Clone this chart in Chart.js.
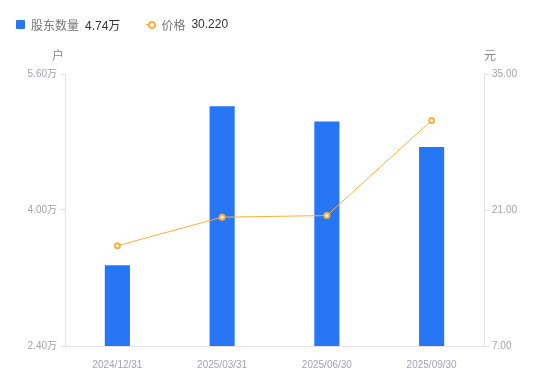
<!DOCTYPE html>
<html>
<head>
<meta charset="utf-8">
<script src="https://cdn.jsdelivr.net/npm/chart.js@4/dist/chart.umd.min.js"></script>
<style>
  html, body { margin: 0; padding: 0; background: #fff; }
  #wrap { position: relative; width: 550px; height: 381px; }
  #legend {
    position: absolute; left: 16px; top: 15px; height: 18px;
    font: 12px "Liberation Sans", "Noto Sans CJK SC", sans-serif;
    display: flex; align-items: center; white-space: nowrap;
  }
  .lg-item { display: flex; align-items: center; margin-right: 26px; }
  .lg-name { color: #777; margin-right: 6px; }
  .lg-val { color: #333; }
  .sq { width: 9px; height: 9px; background: #2777F5; border-radius: 1px; margin-right: 6px; }
  .ln { position: relative; width: 10px; height: 10px; margin-right: 5px; }
  .ln:before { content: ""; position: absolute; left: 0; right: 0; top: 4.5px; height: 1px; background: #FBB03B; }
  .ln:after { content: ""; position: absolute; left: 1.5px; top: 1.5px; width: 4px; height: 4px; border: 2px solid #FBB03B; border-radius: 50%; background: #fff; }
</style>
</head>
<body>
<div id="wrap">
  <canvas id="c" width="550" height="381"></canvas>
  <div id="legend"></div>
</div>
<script>
// data
const dates = ['2024/12/31', '2025/03/31', '2025/06/30', '2025/09/30'];
const holders = [3.35, 5.22, 5.04, 4.74];     // 万户
const prices = [17.32, 20.26, 20.43, 30.22];  // 元
const holderTicks = [2.4, 4.0, 5.6];
const priceTicks = [7, 21, 35];

const BLUE = '#2777F5';
const ORANGE = '#FBB03B';
const TICK_COLOR = '#a3a3b3';
const AXIS_COLOR = '#e3e3e8';
const FONT = '"Liberation Sans", "Noto Sans CJK SC", sans-serif';

// html legend, shows last values
document.getElementById('legend').innerHTML =
  '<div class="lg-item"><span class="sq"></span><span class="lg-name">股东数量</span>' +
  '<span class="lg-val">' + holders[holders.length - 1].toFixed(2) + '万</span></div>' +
  '<div class="lg-item"><span class="ln"></span><span class="lg-name">价格</span>' +
  '<span class="lg-val">' + prices[prices.length - 1].toFixed(3) + '</span></div>';

// unit labels above the y axes
const unitPlugin = {
  id: 'units',
  afterDraw(chart) {
    const ctx = chart.ctx;
    const area = chart.chartArea;
    ctx.save();
    ctx.font = '12px ' + FONT;
    ctx.fillStyle = '#888';
    ctx.textBaseline = 'middle';
    ctx.textAlign = 'right';
    ctx.fillText('户', area.left - 1, 57);
    ctx.textAlign = 'left';
    ctx.fillText('元', area.right, 57);
    ctx.restore();
  }
};

new Chart(document.getElementById('c'), {
  data: {
    labels: dates,
    datasets: [
      {
        type: 'line',
        label: '价格',
        data: prices,
        yAxisID: 'yR',
        borderColor: ORANGE,
        borderWidth: 1,
        pointRadius: 2.5,
        pointBorderWidth: 2,
        pointBackgroundColor: '#fff',
        pointBorderColor: ORANGE,
        tension: 0,
        order: 0
      },
      {
        type: 'bar',
        label: '股东数量',
        data: holders,
        yAxisID: 'yL',
        backgroundColor: BLUE,
        barPercentage: 0.24,
        categoryPercentage: 1,
        order: 1
      }
    ]
  },
  options: {
    responsive: false,
    animation: false,
    layout: { padding: { top: 74, left: 0, right: 1, bottom: 0 } },
    plugins: { legend: { display: false }, tooltip: { enabled: false } },
    scales: {
      x: {
        offset: true,
        grid: { display: false },
        border: { color: AXIS_COLOR },
        ticks: { color: TICK_COLOR, font: { size: 10, family: FONT }, padding: 5, maxRotation: 0 },
        afterFit(s) { s.height = 35; }
      },
      yL: {
        position: 'left',
        min: holderTicks[0],
        max: holderTicks[holderTicks.length - 1],
        afterBuildTicks(s) { s.ticks = holderTicks.map(v => ({ value: v })); },
        grid: { drawOnChartArea: false, color: AXIS_COLOR, tickLength: 5 },
        border: { color: AXIS_COLOR },
        ticks: {
          color: TICK_COLOR, font: { size: 10, family: FONT }, padding: 3,
          callback: v => v.toFixed(2) + '万'
        },
        afterFit(s) { s.width = 65; }
      },
      yR: {
        position: 'right',
        min: priceTicks[0],
        max: priceTicks[priceTicks.length - 1],
        afterBuildTicks(s) { s.ticks = priceTicks.map(v => ({ value: v })); },
        grid: { drawOnChartArea: false, color: AXIS_COLOR, tickLength: 5 },
        border: { color: AXIS_COLOR },
        ticks: {
          color: TICK_COLOR, font: { size: 10, family: FONT }, padding: 3,
          callback: v => v.toFixed(2)
        },
        afterFit(s) { s.width = 65; }
      }
    }
  },
  plugins: [unitPlugin]
});
</script>
</body>
</html>
